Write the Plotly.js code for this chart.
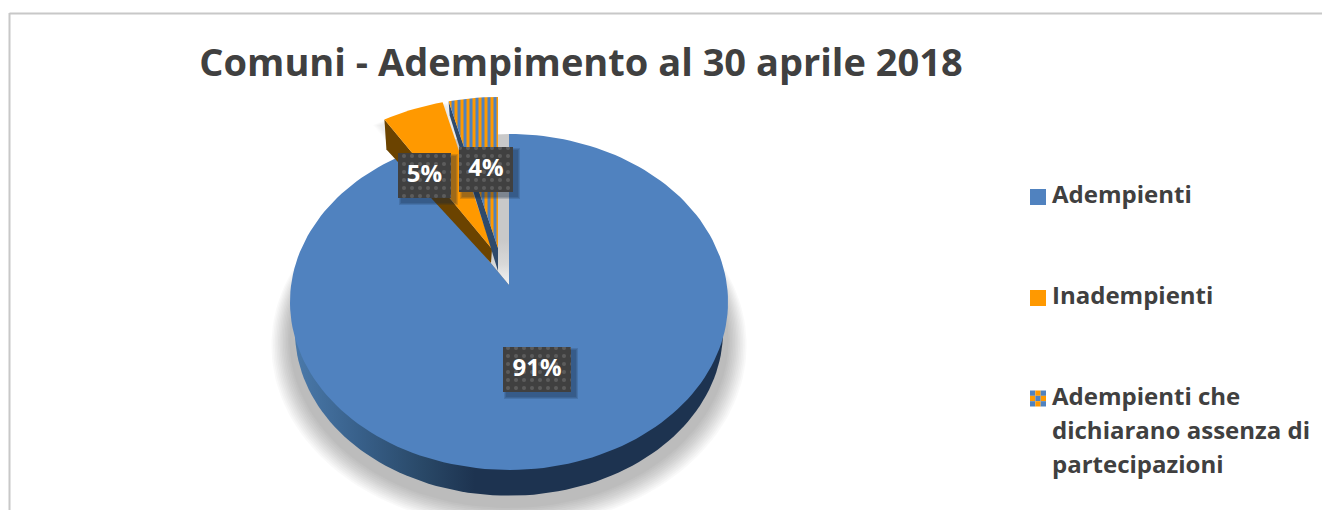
<!DOCTYPE html>
<html>
<head>
<meta charset="utf-8">
<script src="https://cdn.plot.ly/plotly-3.0.1.min.js"></script>
<style>html,body{margin:0;padding:0;background:#fff}#chart{width:1322px;height:516px}</style>
</head>
<body>
<div id="chart"></div>
<script>
const chartTitle = 'Comuni - Adempimento al 30 aprile 2018';
const categories = ['Adempienti', 'Inadempienti', 'Adempienti che|dichiarano assenza di|partecipazioni'];
const values = [91, 5, 4];

const BLUE = '#5082bf', ORANGE = '#ff9900', INK = '#404040', FONT = '"Open Sans", sans-serif';
const W = 1322, H = 516, BOTTOM = 510;

// Tilted-disc projection: angle (clockwise from 12 o'clock) -> page position
const APEX = {x: 509, y: 285}, PERSP = 0.101, RX = 217.9, RY = 166.3;
function disc(deg, dx = 0, dy = 0, s = 1) {
  const t = deg * Math.PI / 180, u = Math.sin(t), v = Math.cos(t), d = 1 + PERSP * v;
  return [APEX.x + dx + s * RX * u / d, APEX.y + dy - s * RY * v / d];
}
function arc(a, b, dx, dy, s) {
  const pts = [], n = Math.max(6, Math.round(Math.abs(b - a) / 2));
  for (let i = 0; i <= n; i++) pts.push(disc(a + (b - a) * i / n, dx, dy, s));
  return pts;
}
function closed(pts) { const p = pts.concat([pts[0]]); return {x: p.map(q => q[0]), y: p.map(q => q[1])}; }
function poly(pts, style) {
  return Object.assign(closed(pts), {type: 'scatter', mode: 'lines', fill: 'toself', line: {width: 0},
    hoverinfo: 'skip', showlegend: false}, style);
}
function grow(pts, k, dx, dy) {
  const cx = pts.reduce((a, p) => a + p[0], 0) / pts.length, cy = pts.reduce((a, p) => a + p[1], 0) / pts.length;
  return pts.map(p => [cx + (p[0] - cx) * k + dx, cy + (p[1] - cy) * k + dy]);
}

// Slice angles from the values
const total = values.reduce((a, b) => a + b, 0);
const edges = [0];
values.forEach(v => edges.push(edges[edges.length - 1] + v / total * 360));
const OFFSETS = [[0, 0], [-17, -36], [-11, -37]];
const slicePts = values.map((v, i) => {
  const [dx, dy] = OFFSETS[i];
  return [[APEX.x + dx, APEX.y + dy]].concat(arc(edges[i], edges[i + 1], dx, dy, 1));
});

const traces = [];

// Soft shadow under the pie
for (let i = 0; i < 12; i++) {
  traces.push(poly(arc(0, 360, 0, 42 - i * 0.4, 1.085 - i * 0.0075), {fillcolor: 'rgba(0,0,0,0.022)'}));
}
// Soft shadow around exploded slices
[1, 2].forEach(i => {
  for (let k = 0; k < 6; k++) traces.push(poly(grow(slicePts[i], 1.24 - k * 0.035, -3, 6), {fillcolor: 'rgba(0,0,0,0.012)'}));
});

// Side wall of the pie
traces.push(poly(arc(0, 360, 0, 30, 0.977), {
  fillcolor: '#1d3350',
  fillgradient: {type: 'horizontal', colorscale: [[0, '#4a79aa'], [0.15, '#38608a'], [0.3, '#294867'], [0.42, '#1d3350'], [1, '#1d3350']]}
}));
// Main slice
traces.push(poly(slicePts[0], {name: categories[0], fillcolor: BLUE}));
// Missing sector showing the shadow
traces.push(poly([[APEX.x, APEX.y]].concat(arc(edges[1], 360)), {
  fillcolor: '#c9c9c9',
  fillgradient: {type: 'vertical', colorscale: [[0, '#f4f4f4'], [0.14, '#d8d8d8'], [0.3, '#c9c9c9'], [1, '#c9c9c9']]}
}));
traces.push(poly([[APEX.x, APEX.y]].concat(arc(edges[1], edges[1] + 12)), {fillcolor: 'rgba(255,255,255,0)'}));

// Exploded slices: walls, then faces
function wall(i, outer, tip) {
  const [dx, dy] = OFFSETS[i];
  const o = disc(edges[i], dx, dy), t = [APEX.x + dx, APEX.y + dy];
  return [o, t, [t[0] + tip[0], t[1] + tip[1]], [o[0] + outer[0], o[1] + outer[1]]];
}
traces.push(poly(wall(1, [2, 30], [-1, 14]), {fillcolor: '#6b4300'}));
traces.push(poly(slicePts[1], {name: categories[1], fillcolor: ORANGE}));
traces.push(poly(wall(2, [1, 14], [0, 23]), {fillcolor: '#2f4a6b'}));
traces.push(poly(slicePts[2], {name: categories[2], fillcolor: ORANGE,
  fillpattern: {shape: '|', size: 6, solidity: 0.5, bgcolor: ORANGE, fgcolor: BLUE, fillmode: 'replace'}}));

// Data labels
const LABEL_BOXES = [[503, 347, 571, 392], [398, 153, 451, 198], [459, 147, 513, 192]];
function rect(b, d = 0, e = 0) { return [[b[0] - e + d, b[1] - e + d], [b[2] + e + d, b[1] - e + d], [b[2] + e + d, b[3] + e + d], [b[0] - e + d, b[3] + e + d]]; }
LABEL_BOXES.forEach((b, i) => {
  [3, 2, 1].forEach(e => traces.push(poly(rect(b, 4, e), {fillcolor: 'rgba(20,35,60,0.16)'})));
  traces.push(poly(rect(b), {fillcolor: '#404040',
    fillpattern: {shape: '.', size: 8, solidity: 0.2, bgcolor: '#404040', fgcolor: '#5c5c5c', fillmode: 'replace'}}));
});
traces.push({type: 'scatter', mode: 'text', hoverinfo: 'skip', showlegend: false,
  x: LABEL_BOXES.map(b => (b[0] + b[2]) / 2), y: LABEL_BOXES.map(b => (b[1] + b[3]) / 2),
  text: values.map(v => Math.round(v / total * 100) + '%'), textposition: 'middle center',
  textfont: {family: FONT, size: 24, color: '#fff', weight: 700}});

// Key
const KEY = [{y: 197}, {y: 298}, {y: 398.5}], KEY_X = 1038, KEY_TEXT_X = 1052, KEY_STEP = 34.2, CELL = 16 / 3;
traces.push({type: 'scatter', mode: 'markers', hoverinfo: 'skip', showlegend: false,
  x: [KEY_X, KEY_X], y: [KEY[0].y, KEY[1].y],
  marker: {symbol: 'square', size: 16, color: [BLUE, ORANGE], line: {width: 0}}});
const cx = [], cy = [], cc = [];
for (let r = 0; r < 3; r++) for (let c = 0; c < 3; c++) {
  cx.push(KEY_X + (c - 1) * CELL); cy.push(KEY[2].y + (r - 1) * CELL);
  cc.push((r + c) % 2 === 0 ? BLUE : ORANGE);
}
traces.push({type: 'scatter', mode: 'markers', hoverinfo: 'skip', showlegend: false, x: cx, y: cy,
  marker: {symbol: 'square', size: CELL, color: cc, line: {width: 0}}});
const kx = [], ky = [], kt = [];
categories.forEach((label, i) => label.split('|').forEach((line, j) => {
  kx.push(KEY_TEXT_X); ky.push(KEY[i].y + j * KEY_STEP); kt.push(line);
}));
traces.push({type: 'scatter', mode: 'text', hoverinfo: 'skip', showlegend: false, x: kx, y: ky, text: kt,
  textposition: 'middle right', cliponaxis: false, textfont: {family: FONT, size: 24, color: INK, weight: 700}});

const layout = {
  width: W, height: H, showlegend: false, paper_bgcolor: '#fff', plot_bgcolor: '#fff',
  margin: {l: 0, r: 0, t: 0, b: H - BOTTOM, pad: 0},
  title: {text: chartTitle, x: 581 / W, xanchor: 'center', xref: 'paper', y: 1 - 63 / H, yanchor: 'middle', yref: 'container',
    font: {family: FONT, size: 38, color: INK, weight: 700}},
  xaxis: {range: [0, W], visible: false, fixedrange: true},
  yaxis: {range: [BOTTOM, 0], visible: false, fixedrange: true},
  shapes: [
    {type: 'line', xref: 'x', yref: 'y', x0: 9.5, x1: W, y0: 13.5, y1: 13.5, line: {color: '#c8c8c8', width: 2}, layer: 'below'},
    {type: 'line', xref: 'x', yref: 'y', x0: 9.5, x1: 9.5, y0: 13, y1: BOTTOM, line: {color: '#c8c8c8', width: 2}, layer: 'below'}
  ]
};
Plotly.newPlot('chart', traces, layout, {displayModeBar: false, staticPlot: true});
</script>
</body>
</html>
